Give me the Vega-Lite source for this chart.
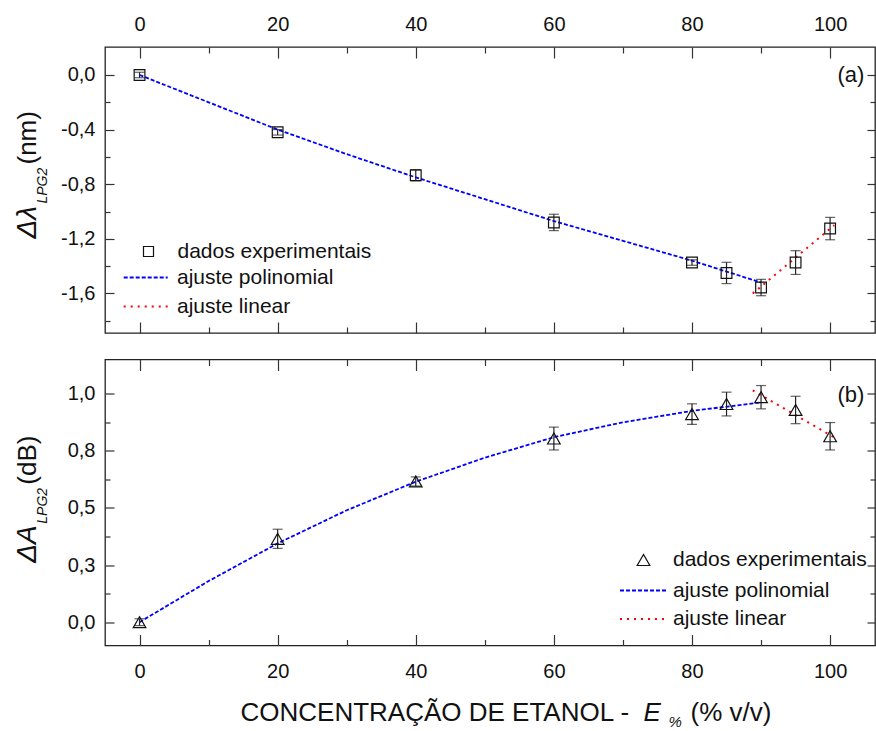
{
  "$schema": "https://vega.github.io/schema/vega-lite/v6.json",
  "padding": {"left": 12, "top": 13, "right": 0, "bottom": 0},
  "background": "white",
  "config": {
    "locale": {"number": {"decimal": ",", "thousands": ".", "grouping": [3], "currency": ["", ""], "minus": "-"}},
    "view": {"stroke": "#222", "strokeWidth": 1.3},
    "font": "Liberation Sans",
    "axis": {"grid": false, "domain": false, "labelFont": "Liberation Sans", "labelFontSize": 20, "labelColor": "#111", "tickColor": "#333", "tickWidth": 1.2, "titleFont": "Liberation Sans", "titleFontSize": 26, "titleFontWeight": "normal", "titleColor": "#111"},
    "legend": {"labelFont": "Liberation Sans", "labelFontSize": 21, "labelColor": "#111", "padding": 0, "titlePadding": 0, "labelLimit": 0}
  },
  "datasets": {
    "a_pts": [
      {"x": 0, "y": 0.0, "e": 0.02, "tipo": "dados experimentais"},
      {"x": 20, "y": -0.42, "e": 0.02, "tipo": "dados experimentais"},
      {"x": 40, "y": -0.735, "e": 0.04, "tipo": "dados experimentais"},
      {"x": 60, "y": -1.08, "e": 0.06, "tipo": "dados experimentais"},
      {"x": 80, "y": -1.374, "e": 0.02, "tipo": "dados experimentais"},
      {"x": 85, "y": -1.45, "e": 0.078, "tipo": "dados experimentais"},
      {"x": 90, "y": -1.557, "e": 0.06, "tipo": "dados experimentais"},
      {"x": 95, "y": -1.374, "e": 0.087, "tipo": "dados experimentais"},
      {"x": 100, "y": -1.125, "e": 0.082, "tipo": "dados experimentais"}
    ],
    "a_poly": [
      {"x": 0, "y": 0.0, "ajuste": "ajuste polinomial"},
      {"x": 10, "y": -0.2, "ajuste": "ajuste polinomial"},
      {"x": 20, "y": -0.4, "ajuste": "ajuste polinomial"},
      {"x": 30, "y": -0.58, "ajuste": "ajuste polinomial"},
      {"x": 40, "y": -0.75, "ajuste": "ajuste polinomial"},
      {"x": 50, "y": -0.91, "ajuste": "ajuste polinomial"},
      {"x": 60, "y": -1.07, "ajuste": "ajuste polinomial"},
      {"x": 70, "y": -1.215, "ajuste": "ajuste polinomial"},
      {"x": 80, "y": -1.36, "ajuste": "ajuste polinomial"},
      {"x": 90, "y": -1.52, "ajuste": "ajuste polinomial"}
    ],
    "a_lin": [
      {"x": 88.8, "y": -1.6, "ajuste": "ajuste linear"},
      {"x": 100.6, "y": -1.1, "ajuste": "ajuste linear"}
    ],
    "b_pts": [
      {"x": 0, "y": 0.0, "e": 0.015, "tipo": "dados experimentais"},
      {"x": 20, "y": 0.365, "e": 0.042, "tipo": "dados experimentais"},
      {"x": 40, "y": 0.616, "e": 0.02, "tipo": "dados experimentais"},
      {"x": 60, "y": 0.804, "e": 0.05, "tipo": "dados experimentais"},
      {"x": 80, "y": 0.911, "e": 0.045, "tipo": "dados experimentais"},
      {"x": 85, "y": 0.955, "e": 0.052, "tipo": "dados experimentais"},
      {"x": 90, "y": 0.985, "e": 0.051, "tipo": "dados experimentais"},
      {"x": 95, "y": 0.929, "e": 0.06, "tipo": "dados experimentais"},
      {"x": 100, "y": 0.814, "e": 0.06, "tipo": "dados experimentais"}
    ],
    "b_poly": [
      {"x": 0, "y": 0.0, "ajuste": "ajuste polinomial"},
      {"x": 10, "y": 0.18, "ajuste": "ajuste polinomial"},
      {"x": 20, "y": 0.345, "ajuste": "ajuste polinomial"},
      {"x": 30, "y": 0.49, "ajuste": "ajuste polinomial"},
      {"x": 40, "y": 0.615, "ajuste": "ajuste polinomial"},
      {"x": 50, "y": 0.72, "ajuste": "ajuste polinomial"},
      {"x": 60, "y": 0.81, "ajuste": "ajuste polinomial"},
      {"x": 70, "y": 0.875, "ajuste": "ajuste polinomial"},
      {"x": 80, "y": 0.925, "ajuste": "ajuste polinomial"},
      {"x": 90, "y": 0.962, "ajuste": "ajuste polinomial"}
    ],
    "b_lin": [
      {"x": 88.8, "y": 1.015, "ajuste": "ajuste linear"},
      {"x": 100.7, "y": 0.807, "ajuste": "ajuste linear"}
    ]
  },
  "vconcat": [
    {
      "width": 770,
      "height": 286,
      "layer": [
        {
          "data": {"name": "a_poly"},
          "mark": {"type": "line", "strokeWidth": 1.8},
          "encoding": {
            "x": {"field": "x", "type": "quantitative", "scale": {"domain": [-5, 106.5], "nice": false, "zero": false},
                  "axis": {"orient": "bottom", "values": [0, 20, 40, 60, 80, 100], "labels": false, "tickSize": -11, "title": null}},
            "y": {"field": "y", "type": "quantitative", "scale": {"domain": [-1.89, 0.205], "nice": false, "zero": false},
                  "axis": {"orient": "left", "values": [-1.6, -1.2, -0.8, -0.4, 0], "format": ".1f", "tickSize": -9, "labelPadding": 19,
                           "title": "Δλ", "titleFontStyle": "italic", "titleFontSize": 28, "titleAngle": 270, "titleAlign": "left", "titleBaseline": "alphabetic", "titleX": -70, "titleY": 191}},
            "color": {"field": "ajuste", "type": "nominal", "scale": {"domain": ["ajuste polinomial", "ajuste linear"], "range": ["#0000ff", "#ff0000"]},
                      "legend": {"orient": "none", "legendX": 29.7, "legendY": 219.5, "title": null, "symbolType": "M-2.2,0H2.2", "symbolSize": 400, "symbolStrokeWidth": 2, "labelOffset": 20.3, "rowPadding": 8}},
            "strokeDash": {"field": "ajuste", "type": "nominal", "scale": {"domain": ["ajuste polinomial", "ajuste linear"], "range": [[4, 2], [2, 5]]},
                           "legend": {"orient": "none", "legendX": 29.7, "legendY": 219.5, "title": null, "symbolType": "M-2.2,0H2.2", "symbolSize": 400, "symbolStrokeWidth": 2, "labelOffset": 20.3, "rowPadding": 8}}
          }
        },
        {
          "data": {"name": "a_lin"},
          "mark": {"type": "line", "strokeWidth": 2},
          "encoding": {
            "x": {"field": "x", "type": "quantitative", "scale": {"domain": [-5, 106.5], "nice": false, "zero": false},
                  "axis": {"orient": "top", "values": [0, 20, 40, 60, 80, 100], "tickSize": -11, "labelPadding": 24, "title": null}},
            "y": {"field": "y", "type": "quantitative",
                  "axis": {"orient": "right", "values": [-1.6, -1.2, -0.8, -0.4, 0], "labels": false, "tickSize": -8,
                           "title": "(nm)", "titleAngle": 270, "titleAlign": "left", "titleBaseline": "alphabetic", "titleX": -840, "titleY": 117}},
            "color": {"field": "ajuste", "type": "nominal"},
            "strokeDash": {"field": "ajuste", "type": "nominal"}
          }
        },
        {
          "data": {"name": "a_pts"},
          "mark": {"type": "errorbar", "ticks": {"size": 10, "color": "#222"}, "color": "#222", "thickness": 1.2},
          "encoding": {
            "x": {"field": "x", "type": "quantitative", "axis": null},
            "y": {"field": "y", "type": "quantitative", "axis": null},
            "yError": {"field": "e"}
          }
        },
        {
          "data": {"name": "a_pts"},
          "mark": {"type": "point", "filled": false, "color": "#111", "strokeWidth": 1.2, "size": 115, "opacity": 1},
          "encoding": {
            "x": {"field": "x", "type": "quantitative",
                  "axis": {"orient": "bottom", "values": [10, 30, 50, 70, 90], "labels": false, "tickSize": -6, "title": null}},
            "y": {"field": "y", "type": "quantitative",
                  "axis": {"orient": "left", "values": [-1.8, -1.4, -1.0, -0.6, -0.2], "labels": false, "tickSize": -5,
                           "title": "LPG2", "titleFontStyle": "italic", "titleFontSize": 14, "titleAngle": 270, "titleAlign": "left", "titleBaseline": "alphabetic", "titleX": -59, "titleY": 156}},
            "shape": {"field": "tipo", "type": "nominal", "scale": {"domain": ["dados experimentais"], "range": ["square"]},
                      "legend": {"orient": "none", "legendX": 33, "legendY": 194, "title": null, "symbolSize": 100, "symbolStrokeColor": "#111", "symbolFillColor": "transparent", "symbolStrokeWidth": 1.2, "labelOffset": 18.5}}
          }
        },
        {
          "data": {"values": [{"lab": "(a)"}]},
          "mark": {"type": "text", "fontSize": 22, "font": "Liberation Sans", "align": "center", "baseline": "middle", "color": "#111"},
          "encoding": {
            "x": {"datum": 103, "type": "quantitative",
                  "axis": {"orient": "top", "values": [10, 30, 50, 70, 90], "labels": false, "tickSize": -6, "title": null}},
            "y": {"datum": 0, "type": "quantitative",
                  "axis": {"orient": "right", "values": [-1.8, -1.4, -1.0, -0.6, -0.2], "labels": false, "tickSize": -5, "title": null}},
            "text": {"field": "lab"}
          }
        }
      ],
      "resolve": {"axis": {"x": "independent", "y": "independent"}}
    },
    {
      "width": 770,
      "height": 286,
      "layer": [
        {
          "data": {"name": "b_poly"},
          "mark": {"type": "line", "strokeWidth": 1.8},
          "encoding": {
            "x": {"field": "x", "type": "quantitative", "scale": {"domain": [-5, 106.5], "nice": false, "zero": false},
                  "axis": {"orient": "bottom", "values": [0, 20, 40, 60, 80, 100], "tickSize": -11, "labelPadding": 27,
                           "title": "CONCENTRAÇÃO DE ETANOL - ", "titleAlign": "left", "titleBaseline": "alphabetic", "titleX": 135, "titleY": 75}},
            "y": {"field": "y", "type": "quantitative", "scale": {"domain": [-0.102, 1.15], "nice": false, "zero": false},
                  "axis": {"orient": "left", "values": [0, 0.25, 0.5, 0.75, 1.0], "format": ".1f", "tickSize": -9, "labelPadding": 19,
                           "title": "ΔA", "titleFontStyle": "italic", "titleFontSize": 28, "titleAngle": 270, "titleAlign": "left", "titleBaseline": "alphabetic", "titleX": -70, "titleY": 202.7}},
            "color": {"field": "ajuste", "type": "nominal", "scale": {"domain": ["ajuste polinomial", "ajuste linear"], "range": ["#0000ff", "#ff0000"]},
                      "legend": {"orient": "none", "legendX": 527.5, "legendY": 220, "title": null, "symbolType": "M-2.35,0H2.35", "symbolSize": 400, "symbolStrokeWidth": 2, "labelOffset": 18.5, "rowPadding": 7.5}},
            "strokeDash": {"field": "ajuste", "type": "nominal", "scale": {"domain": ["ajuste polinomial", "ajuste linear"], "range": [[4, 2], [2, 5]]},
                           "legend": {"orient": "none", "legendX": 527.5, "legendY": 220, "title": null, "symbolType": "M-2.35,0H2.35", "symbolSize": 400, "symbolStrokeWidth": 2, "labelOffset": 18.5, "rowPadding": 7.5}}
          }
        },
        {
          "data": {"name": "b_lin"},
          "mark": {"type": "line", "strokeWidth": 2},
          "encoding": {
            "x": {"field": "x", "type": "quantitative",
                  "axis": {"orient": "top", "values": [0, 20, 40, 60, 80, 100], "labels": false, "tickSize": -11,
                           "title": "%", "titleFontStyle": "italic", "titleFontSize": 15, "titleAlign": "left", "titleBaseline": "alphabetic", "titleX": 563, "titleY": 366.5}},
            "y": {"field": "y", "type": "quantitative",
                  "axis": {"orient": "right", "values": [0, 0.25, 0.5, 0.75, 1.0], "labels": false, "tickSize": -8,
                           "title": "(dB)", "titleAngle": 270, "titleAlign": "left", "titleBaseline": "alphabetic", "titleX": -840, "titleY": 124.7}},
            "color": {"field": "ajuste", "type": "nominal"},
            "strokeDash": {"field": "ajuste", "type": "nominal"}
          }
        },
        {
          "data": {"name": "b_pts"},
          "mark": {"type": "errorbar", "ticks": {"size": 10, "color": "#222"}, "color": "#222", "thickness": 1.2},
          "encoding": {
            "x": {"field": "x", "type": "quantitative", "axis": null},
            "y": {"field": "y", "type": "quantitative", "axis": null},
            "yError": {"field": "e"}
          }
        },
        {
          "data": {"name": "b_pts"},
          "mark": {"type": "point", "filled": false, "color": "#111", "strokeWidth": 1.2, "size": 160, "opacity": 1},
          "encoding": {
            "x": {"field": "x", "type": "quantitative",
                  "axis": {"orient": "bottom", "values": [10, 30, 50, 70, 90], "labels": false, "tickSize": -6,
                           "title": "E", "titleFontStyle": "italic", "titleAlign": "left", "titleBaseline": "alphabetic", "titleX": 538, "titleY": 75}},
            "y": {"field": "y", "type": "quantitative",
                  "axis": {"orient": "left", "values": [0.125, 0.375, 0.625, 0.875], "labels": false, "tickSize": -5,
                           "title": "LPG2", "titleFontStyle": "italic", "titleFontSize": 14, "titleAngle": 270, "titleAlign": "left", "titleBaseline": "alphabetic", "titleX": -59, "titleY": 163.7}},
            "shape": {"field": "tipo", "type": "nominal", "scale": {"domain": ["dados experimentais"], "range": ["triangle-up"]},
                      "legend": {"orient": "none", "legendX": 528, "legendY": 190, "title": null, "symbolSize": 160, "symbolStrokeColor": "#111", "symbolFillColor": "transparent", "symbolStrokeWidth": 1.2, "labelOffset": 19}}
          }
        },
        {
          "data": {"values": [{"lab": "(b)"}]},
          "mark": {"type": "text", "fontSize": 22, "font": "Liberation Sans", "align": "center", "baseline": "middle", "color": "#111"},
          "encoding": {
            "x": {"datum": 103, "type": "quantitative",
                  "axis": {"orient": "top", "values": [10, 30, 50, 70, 90], "labels": false, "tickSize": -6,
                           "title": "(% v/v)", "titleAlign": "left", "titleBaseline": "alphabetic", "titleX": 585, "titleY": 361}},
            "y": {"datum": 0.993, "type": "quantitative",
                  "axis": {"orient": "right", "values": [0.125, 0.375, 0.625, 0.875], "labels": false, "tickSize": -5, "title": null}},
            "text": {"field": "lab"}
          }
        }
      ],
      "resolve": {"axis": {"x": "independent", "y": "independent"}}
    }
  ],
  "spacing": 22.5,
  "resolve": {"scale": {"color": "independent", "shape": "independent", "strokeDash": "independent"}, "legend": {"color": "independent", "shape": "independent", "strokeDash": "independent"}}
}
